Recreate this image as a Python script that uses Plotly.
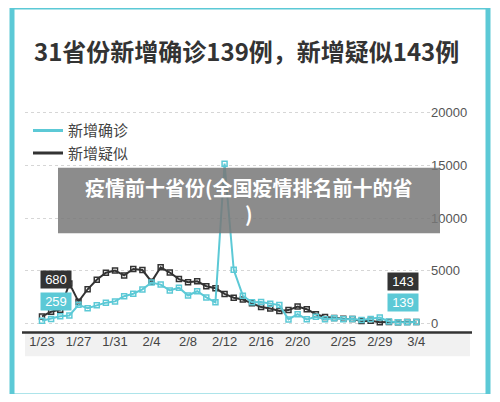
import plotly.graph_objects as go

dates = ["1/23", "1/24", "1/25", "1/26", "1/27", "1/28", "1/29", "1/30", "1/31",
         "2/1", "2/2", "2/3", "2/4", "2/5", "2/6", "2/7", "2/8", "2/9", "2/10",
         "2/11", "2/12", "2/13", "2/14", "2/15", "2/16", "2/17", "2/18", "2/19",
         "2/20", "2/21", "2/22", "2/23", "2/24", "2/25", "2/26", "2/27", "2/28",
         "2/29", "3/1", "3/2", "3/3", "3/4"]
confirmed = [259, 444, 688, 769, 1771, 1459, 1737, 1981, 2099, 2590, 2829, 3235,
             3887, 3694, 3143, 3399, 2656, 3062, 2478, 2015, 15152, 5090, 2641,
             2009, 2048, 1886, 1749, 394, 889, 397, 648, 409, 508, 406, 433, 327,
             427, 573, 202, 125, 119, 139]
suspected = [680, 1118, 1309, 3806, 2077, 3248, 4148, 4812, 5019, 4562, 5173,
             5072, 3971, 5328, 4833, 4214, 3916, 4008, 3536, 3342, 2807, 2450,
             2277, 1918, 1563, 1432, 1185, 1277, 1614, 1361, 882, 620, 530, 452,
             439, 248, 257, 132, 141, 129, 143, 143]
tick_dates = ["1/23", "1/27", "1/31", "2/4", "2/8", "2/12", "2/16", "2/20",
              "2/25", "2/29", "3/4"]
y_ticks = [0, 5000, 10000, 15000, 20000]

teal = "#5cc9d6"
dark = "#333333"
idx = list(range(len(dates)))

# the page has an 8px body margin, so work in reference pixels and convert
W, H, OFF = 484, 386, 8
def px(x):
    return (x - OFF) / W
def py(y):
    return 1 - (y - OFF) / H

fig = go.Figure()
fig.add_trace(go.Scatter(x=idx, y=suspected, mode="lines+markers", showlegend=False,
                         line=dict(color=dark, width=2),
                         marker=dict(symbol="square-open", size=5, color=dark, line=dict(width=1.5))))
fig.add_trace(go.Scatter(x=idx, y=confirmed, mode="lines+markers", showlegend=False,
                         line=dict(color=teal, width=2),
                         marker=dict(symbol="square-open", size=5, color=teal, line=dict(width=1.5))))
fig.add_trace(go.Scatter(x=[None], y=[None], mode="lines", name="新增确诊",
                         line=dict(color=teal, width=3)))
fig.add_trace(go.Scatter(x=[None], y=[None], mode="lines", name="新增疑似",
                         line=dict(color=dark, width=3)))

fig.update_layout(
    width=W, height=H,
    margin=dict(l=0, r=0, t=0, b=0),
    paper_bgcolor="white", plot_bgcolor="white",
    font=dict(family="Noto Sans CJK SC", color=dark),
    title=dict(text="<b>31省份新增确诊139例，新增疑似143例</b>", x=px(34), xanchor="left",
               y=py(53), yanchor="middle",
               font=dict(size=24, color="#333333")),
    legend=dict(x=px(28), y=py(112), xanchor="left", yanchor="top",
                font=dict(size=15, color="#444"), bgcolor="rgba(0,0,0,0)",
                tracegroupgap=10, itemwidth=30),
    xaxis=dict(domain=[px(25), px(430)], range=[-1.86, 42.5],
               tickvals=[dates.index(d) for d in tick_dates], ticktext=tick_dates,
               showgrid=False, zeroline=False,
               tickfont=dict(size=13, color="#444", family="Liberation Sans"), ticks=""),
    yaxis=dict(domain=[py(332), py(106)], range=[-845, 20400],
               side="right", tickvals=y_ticks, ticktext=[str(v) for v in y_ticks],
               showgrid=True, gridcolor="#d6d6d6", griddash="dot", zeroline=False,
               tickfont=dict(size=13, color="#555", family="Liberation Sans")),
)
for i in idx:
    fig.add_shape(type="line", xref="x", yref="paper", x0=i, x1=i,
                  y0=py(332), y1=py(106),
                  line=dict(color="#dedede", width=1, dash="dot"), layer="below")

fig.add_shape(type="rect", xref="paper", yref="paper", x0=px(12), x1=px(488),
              y0=py(396), y1=py(4), fillcolor="white",
              line=dict(color=teal, width=5), layer="below")
fig.add_shape(type="rect", xref="paper", yref="paper", x0=px(25), x1=px(470),
              y0=py(356), y1=py(333), fillcolor="#f1f1f1",
              line_width=0, layer="below")
fig.add_shape(type="line", xref="paper", yref="paper", x0=px(22), x1=px(472),
              y0=py(332), y1=py(332), line=dict(color="#333", width=2.5))

for txt, xp, yp, col in [("680", 40, 288, dark), ("259", 40, 310, teal),
                         ("143", 419, 290, dark), ("139", 419, 311, teal)]:
    fig.add_annotation(text=txt, xref="paper", yref="paper", x=px(xp), y=py(yp),
                       showarrow=False, bgcolor=col, font=dict(color="white", size=13,
                       family="Liberation Sans"), borderpad=1, width=28)

fig.add_shape(type="rect", xref="paper", yref="paper", x0=px(58), x1=px(440),
              y0=py(232), y1=py(166), fillcolor="rgba(120,120,120,0.85)",
              line_width=0)
fig.add_annotation(text="<b>疫情前十省份(全国疫情排名前十的省<br>)</b>", xref="paper",
                   yref="paper", x=px(249), y=py(199), showarrow=False,
                   font=dict(color="white", size=20), align="center")

fig.write_html("out.html")
